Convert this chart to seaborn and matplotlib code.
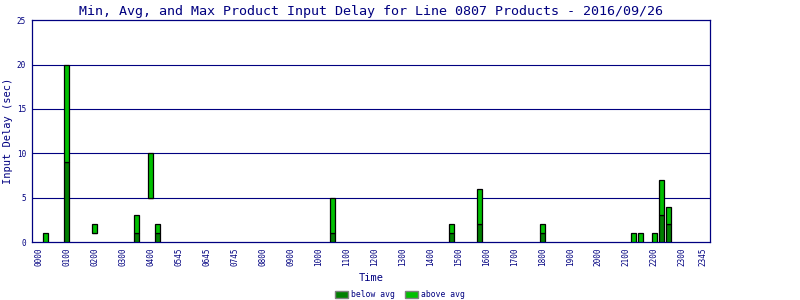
import matplotlib
matplotlib.use("Agg")
import matplotlib.pyplot as plt
import matplotlib.patches as mpatches
import numpy as np
import pandas as pd
import seaborn as sns

# 15-minute time slots (0 = 00:00) holding a product
slots = [1, 4, 8, 14, 16, 17, 42, 59, 63, 72, 85, 86, 88, 89, 90]
min_delay = [0, 0, 1, 0, 5, 0, 0, 0, 0, 0, 0, 0, 0, 0, 0]
avg_delay = [0, 9, 1, 1, 5, 1, 1, 1, 2, 1, 0, 0, 0, 3, 2]
max_delay = [1, 20, 2, 3, 10, 2, 5, 2, 6, 2, 1, 1, 1, 7, 4]

tick_slots = [0, 4, 8, 12, 16, 20, 24, 28, 32, 36, 40, 44, 48, 52, 56, 60,
              64, 68, 72, 76, 80, 84, 88, 92, 95]
tick_labels = ["0000", "0100", "0200", "0300", "0400", "0545", "0645", "0745",
               "0800", "0900", "1000", "1100", "1200", "1300", "1400", "1500",
               "1600", "1700", "1800", "1900", "2000", "2100", "2200", "2300",
               "2345"]

NAVY = "#000080"
DARK = "#008000"
LIGHT = "#00C000"
MONO = "DejaVu Sans Mono"

sns.set_theme(style="white")
plt.rcParams["font.family"] = [MONO]

df = pd.DataFrame({"slot": slots, "mn": min_delay, "avg": avg_delay, "mx": max_delay})
df = df.sort_values("slot").reset_index(drop=True)
df["below"] = df["avg"] - df["mn"]
df["above"] = df["mx"] - df["avg"]

fig = plt.figure(figsize=(8, 3), dpi=100)
ax = fig.add_axes([31.7 / 800, 1 - 242 / 300, (710.3 - 31.7) / 800, (242 - 20.3) / 300])

sns.barplot(data=df, x="slot", y="below", native_scale=True, width=0.72,
            color=DARK, saturation=1, edgecolor="black", linewidth=0.9,
            errorbar=None, bottom=df["mn"].to_numpy(), ax=ax, zorder=3)
sns.barplot(data=df, x="slot", y="above", native_scale=True, width=0.72,
            color=LIGHT, saturation=1, edgecolor="black", linewidth=0.9,
            errorbar=None, bottom=df["avg"].to_numpy(), ax=ax, zorder=3)

ax.set_xlim(-1, 96)
ax.set_ylim(0, 25)
ax.set_yticks([0, 5, 10, 15, 20, 25])
ax.set_yticklabels(["0", "5", "10", "15", "20", "25"])
ax.set_xticks(tick_slots)
ax.set_xticklabels(tick_labels, rotation=90)
ax.tick_params(axis="both", length=0, labelsize=5.5, labelcolor=NAVY, pad=4)
for lab in ax.get_xticklabels() + ax.get_yticklabels():
    lab.set_family(MONO)

for v in [5, 10, 15, 20]:
    ax.axhline(v, color=NAVY, linewidth=0.8, zorder=1)
for s in ax.spines.values():
    s.set_color(NAVY)
    s.set_linewidth(0.9)
    s.set_visible(True)

ax.set_xlabel("Time", color=NAVY, fontsize=7.5)
ax.xaxis.label.set_va("center")
ax.xaxis.set_label_coords(0.5, -(278 - 242) / 221.7)
ax.set_ylabel("Input Delay (sec)", color=NAVY, fontsize=7.5)
ax.yaxis.label.set_va("center")
ax.yaxis.set_label_coords(-(31.7 - 8) / 678.6, 0.5)
ax.set_title("Min, Avg, and Max Product Input Delay for Line 0807 Products - 2016/09/26",
             color=NAVY, fontsize=9.6, pad=4)

handles = [mpatches.Patch(facecolor=DARK, edgecolor="#808080", linewidth=1.0, label="below avg"),
           mpatches.Patch(facecolor=LIGHT, edgecolor="#808080", linewidth=1.0, label="above avg")]
leg = fig.legend(handles=handles, loc="center", bbox_to_anchor=(0.5, 0.017), ncol=2,
                 frameon=False, fontsize=5.8, handlelength=1.6, handleheight=1.0,
                 handletextpad=0.4, columnspacing=1.2, borderaxespad=0)
for t in leg.get_texts():
    t.set_color(NAVY)

fig.savefig("out.png", dpi=100)
